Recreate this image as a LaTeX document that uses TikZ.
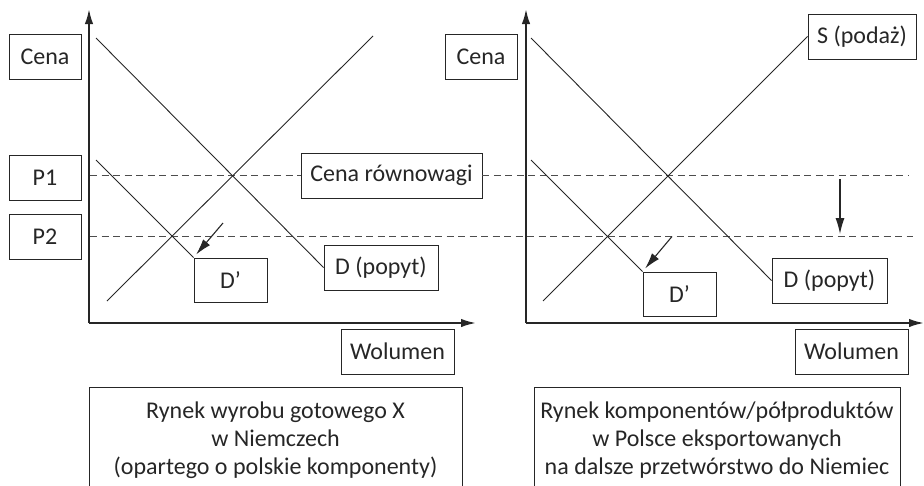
\documentclass[tikz,border=0pt]{standalone}
\usepackage{fontspec}
\setmainfont{Carlito}
\usetikzlibrary{arrows.meta}
\definecolor{ink}{HTML}{262626}
\definecolor{dashgray}{HTML}{4D4D4D}
\tikzset{
  lbl/.style={draw=ink, line width=0.9pt, text=ink, inner sep=0pt,
              font=\fontsize{24}{28}\selectfont},
  captionbox/.style={lbl, align=center},
  mline/.style={draw=ink, line width=0.9pt},
  axisline/.style={draw=ink, line width=2pt, -{Latex[length=15pt,width=8.5pt]}},
  pricelevel/.style={draw=dashgray, line width=1.1pt, dash pattern=on 7pt off 4.5pt},
  movearrow/.style={draw=ink, line width=1.1pt, -{Latex[length=16pt,width=9pt]}},
}
\begin{document}
\begin{tikzpicture}[x=1pt, y=-1pt]
\useasboundingbox (0,0) rectangle (924,485);

% ---- labels ----
\node[lbl, minimum width=72pt, minimum height=45pt] (cenaL) at (45,56.5) {Cena};
\node[lbl, minimum width=72pt, minimum height=45pt] (p1) at (45,177.5) {P1};
\node[lbl, minimum width=72pt, minimum height=45pt] (p2) at (45,236.5) {P2};
\node[lbl, minimum width=181pt, minimum height=45pt] (rown) at (391.5,175.5) {Cena równowagi};
\node[lbl, minimum width=73pt, minimum height=44pt] (dpL) at (230.5,280) {D’};
\node[lbl, minimum width=114pt, minimum height=45pt] (dL) at (381,267.5) {D (popyt)};
\node[lbl, minimum width=113pt, minimum height=45pt] (wolL) at (397.5,351.5) {Wolumen};

\node[lbl, minimum width=72pt, minimum height=45pt] (cenaR) at (481,56.5) {Cena};
\node[lbl, minimum width=108pt, minimum height=45pt] (sR) at (862,36.5) {S (podaż)};
\node[lbl, minimum width=73pt, minimum height=44pt] (dpR) at (679.5,294) {D’};
\node[lbl, minimum width=115pt, minimum height=45pt] (dR) at (829.5,280.5) {D (popyt)};
\node[lbl, minimum width=113pt, minimum height=45pt] (wolR) at (851.5,351.5) {Wolumen};

\node[captionbox, minimum width=373pt, minimum height=106pt] (capL) at (275.5,440)
  {Rynek wyrobu gotowego X\\w Niemczech\\(opartego o polskie komponenty)};
\node[captionbox, minimum width=366pt, minimum height=106pt] (capR) at (717,440)
  {Rynek komponentów/półproduktów\\w Polsce eksportowanych\\na dalsze przetwórstwo do Niemiec};

% ---- axes ----
\coordinate (oL) at (89,323);
\coordinate (oR) at (526,323);
\draw[axisline] (oL) -- (89,9);
\draw[axisline] (oL) -- (476,323);
\draw[axisline] (oR) -- (526,9);
\draw[axisline] (oR) -- (924,323);

% ---- price levels ----
\draw[pricelevel] (90,175.5) -- (rown.west);
\draw[pricelevel] (rown.east) -- (908,175.5);
\draw[pricelevel] (90,236.5) -- (913,236.5);

% ---- left market ----
\draw[mline] (96,38) -- (dL.west);
\draw[mline] (107,301) -- (373,36);
\draw[mline] (96,160) -- (dpL.north west);
\coordinate (aL) at (223,223);
\draw[movearrow, shorten >=4pt] (aL) -- (dpL.north west);

% ---- right market ----
\draw[mline] (531,38) -- (dR.west);
\draw[mline] (543,301) -- (sR.west);
\draw[mline] (531,160) -- (dpR.north west);
\coordinate (aR) at (672,236.5);
\draw[movearrow, shorten >=4pt] (aR) -- (dpR.north west);
\coordinate (fTop) at (840,179);
\coordinate (fBot) at (840,234);
\draw[movearrow] (fTop) -- (fBot);
\end{tikzpicture}
\end{document}
